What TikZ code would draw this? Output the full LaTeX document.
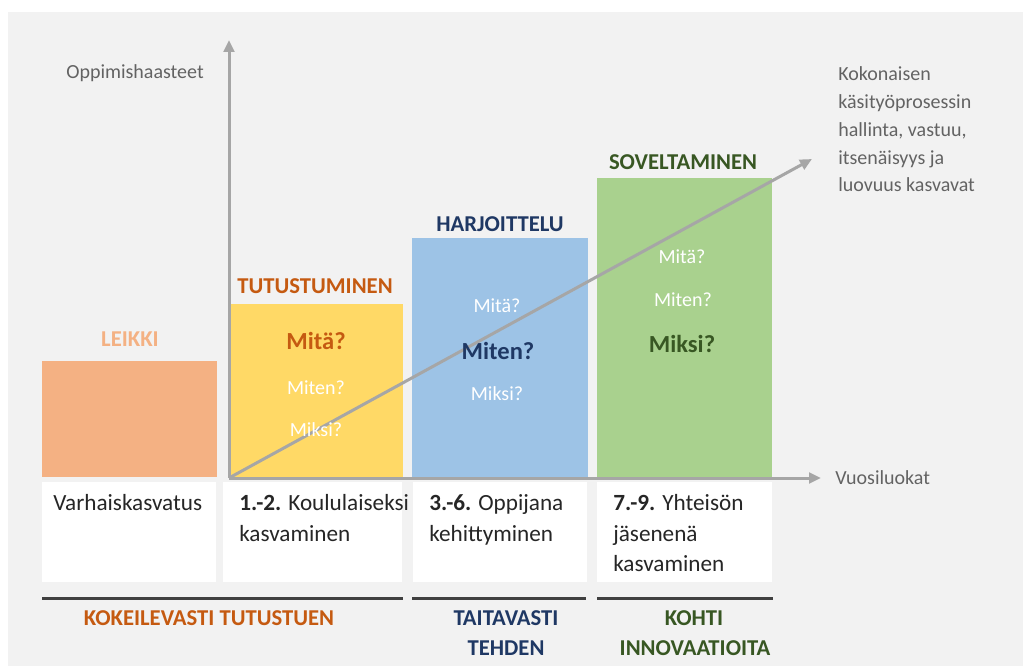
\documentclass[tikz,border=0pt]{standalone}
\usepackage{fontspec}
\setmainfont{Carlito}
\usetikzlibrary{arrows.meta,fit}
\definecolor{bg}{HTML}{F2F2F2}
\definecolor{leikkicol}{HTML}{F4B183}
\definecolor{tutucol}{HTML}{FFD966}
\definecolor{harjcol}{HTML}{9DC3E6}
\definecolor{sovecol}{HTML}{A9D18E}
\definecolor{orangedark}{HTML}{C55A11}
\definecolor{navy}{HTML}{1F3864}
\definecolor{greendark}{HTML}{385723}
\definecolor{axisgrey}{HTML}{A6A6A6}
\definecolor{greytxt}{HTML}{636363}
\definecolor{celltxt}{HTML}{262626}
\definecolor{rulecol}{HTML}{404040}
\begin{document}
\begin{tikzpicture}[x=0.75pt,y=-0.75pt,
  bar/.style={inner sep=0pt,outer sep=0pt,draw=none},
  cell/.style={fill=white,inner sep=0pt,outer sep=0pt,draw=none},
  head/.style={font=\fontsize{17}{20}\selectfont\bfseries,anchor=base,inner sep=0pt},
  qbig/.style={font=\fontsize{18.4}{22}\selectfont\bfseries,anchor=base,inner sep=0pt},
  qsmall/.style={font=\fontsize{15}{18}\selectfont,text=white,anchor=base,inner sep=0pt},
  celltext/.style={font=\fontsize{17.4}{22}\selectfont,text=celltxt,anchor=base west,inner sep=0pt},
  greylabel/.style={font=\fontsize{15}{18}\selectfont,text=greytxt,anchor=base west,inner sep=0pt},
  axisarrow/.style={draw=axisgrey,line width=2.25pt,-{Triangle[length=9pt,width=8pt]}},
  rulestyle/.style={draw=rulecol,line width=2.25pt}
]
\useasboundingbox (0,0) rectangle (1023,666);
\fill[white] (0,0) rectangle (1023,666);
\fill[bg] (8,12) rectangle (1023,666);

% bars
\node[bar,fill=leikkicol,fit={(42,361)(217,477)}] (leikkibox) {};
\node[bar,fill=tutucol,fit={(229,304)(403,477)}] (tutubox) {};
\node[bar,fill=harjcol,fit={(412,238)(588,477)}] (harjbox) {};
\node[bar,fill=sovecol,fit={(597,178)(772,477)}] (sovebox) {};

% white cells
\node[cell,fit={(42,482)(216,582)}] (cell1) {};
\node[cell,fit={(223,482)(402,582)}] (cell2) {};
\node[cell,fit={(413,482)(587,582)}] (cell3) {};
\node[cell,fit={(597,482)(772,582)}] (cell4) {};

% axes
\coordinate (O) at (229,478);
\coordinate (ytip) at (229,40);
\coordinate (xtip) at (821,478);
\coordinate (dtip) at (812,159);
\draw[axisarrow] (O) -- (ytip);
\draw[axisarrow] (O) -- (xtip);
\draw[axisarrow] (O) -- (dtip);

% rules
\coordinate (r1a) at (42,598); \coordinate (r1b) at (403,598);
\coordinate (r2a) at (412,598); \coordinate (r2b) at (586,598);
\coordinate (r3a) at (597,598); \coordinate (r3b) at (773,598);
\draw[rulestyle] (r1a) -- (r1b);
\draw[rulestyle] (r2a) -- (r2b);
\draw[rulestyle] (r3a) -- (r3b);

% headers
\node[head,text=leikkicol] (hleikki) at (130,346) {LEIKKI};
\node[head,text=orangedark] (htutu) at (315,294) {TUTUSTUMINEN};
\node[head,text=navy] (hharj) at (500,232) {HARJOITTELU};
\node[head,text=greendark] (hsove) at (683,170) {SOVELTAMINEN};

% questions
\node[qbig,text=orangedark] (t1) at (316,349) {Mitä?};
\node[qsmall] (t2) at (316,394) {Miten?};
\node[qsmall] (t3) at (316,436) {Miksi?};
\node[qsmall] (h1) at (497,312) {Mitä?};
\node[qbig,text=navy] (h2) at (498,359) {Miten?};
\node[qsmall] (h3) at (497,400) {Miksi?};
\node[qsmall] (s1) at (682,264) {Mitä?};
\node[qsmall] (s2) at (683,306) {Miten?};
\node[qbig,text=greendark] (s3) at (682,352) {Miksi?};

% axis labels
\node[greylabel,anchor=base] (ylab) at (135,79) {Oppimishaasteet};
\node[greylabel] (xlab) at (835,484) {Vuosiluokat};
\node[greylabel] (d1) at (838,81) {Kokonaisen};
\node[greylabel] (d2) at (838,109) {käsityöprosessin};
\node[greylabel] (d3) at (838,137) {hallinta, vastuu,};
\node[greylabel] (d4) at (838,165) {itsenäisyys ja};
\node[greylabel] (d5) at (838,192) {luovuus kasvavat};

% cell texts
\node[celltext] (c1a) at (53,510) {Varhaiskasvatus};
\node[celltext] (c2a) at (239,510) {\textbf{1.-2.} Koululaiseksi};
\node[celltext] (c2b) at (239,541) {kasvaminen};
\node[celltext] (c3a) at (429,510) {\textbf{3.-6.} Oppijana};
\node[celltext] (c3b) at (429,541) {kehittyminen};
\node[celltext] (c4a) at (613,510) {\textbf{7.-9.} Yhteisön};
\node[celltext] (c4b) at (613,541) {jäsenenä};
\node[celltext] (c4c) at (613,571) {kasvaminen};

% bottom labels
\node[head,text=orangedark] (b1) at (209,625) {KOKEILEVASTI TUTUSTUEN};
\node[head,text=navy] (b2a) at (506,625) {TAITAVASTI};
\node[head,text=navy] (b2b) at (506,655) {TEHDEN};
\node[head,text=greendark] (b3a) at (694,625) {KOHTI};
\node[head,text=greendark] (b3b) at (695,655) {INNOVAATIOITA};
\end{tikzpicture}
\end{document}
